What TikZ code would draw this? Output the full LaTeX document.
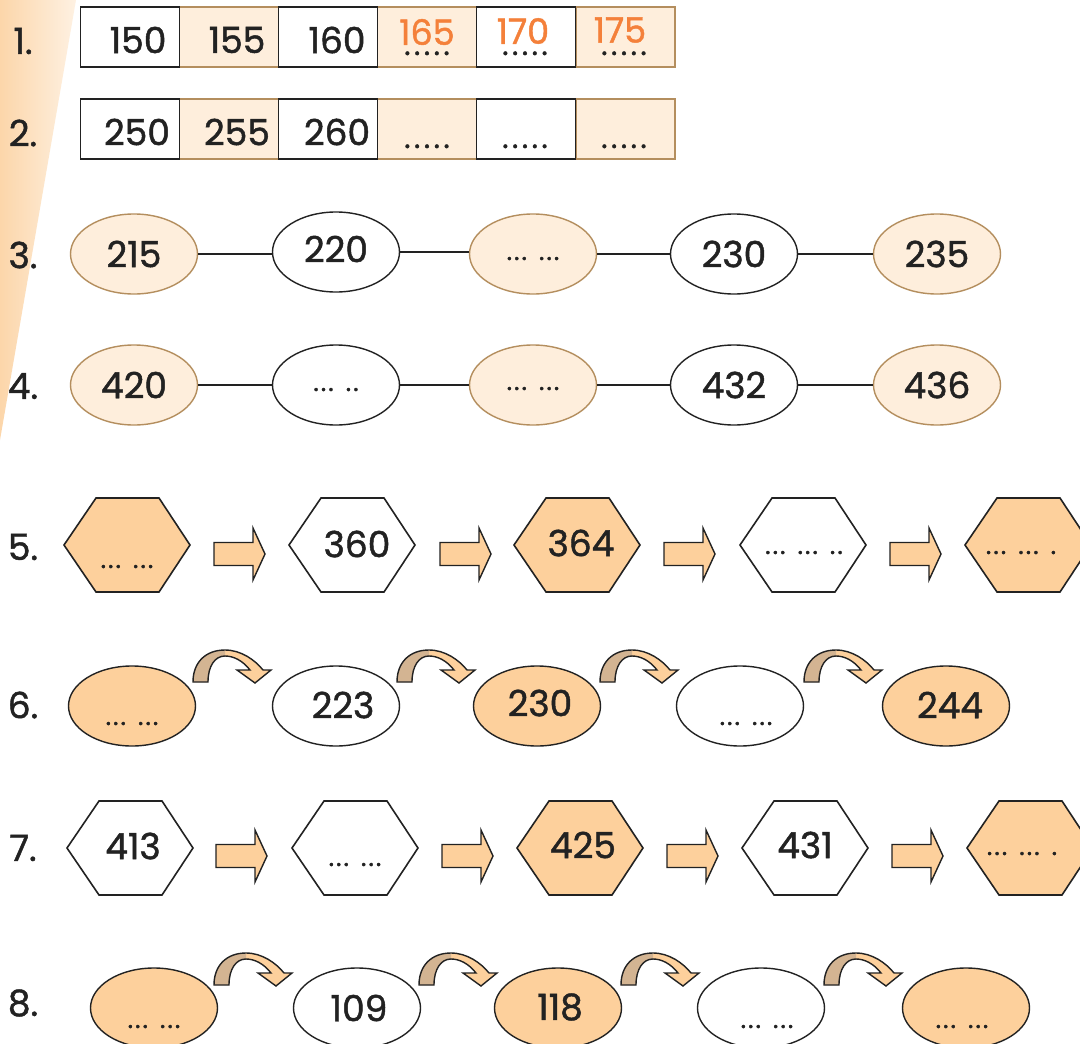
\documentclass[tikz,border=0pt]{standalone}
\usepackage{fontspec}
\setmainfont{Poppins}
\newfontfamily\numfont[FakeBold=1.3]{Poppins}
\usetikzlibrary{shapes.geometric,calc}
\definecolor{peachL}{HTML}{FEEEDC}
\definecolor{peachS}{HTML}{FDD09C}
\definecolor{tanB}{HTML}{B48E5E}
\definecolor{tanF}{HTML}{D3B492}
\definecolor{orangeT}{HTML}{F4803A}
\definecolor{ink}{HTML}{222222}
\definecolor{wedgeA}{HTML}{FCD6AA}
\definecolor{wedgeB}{HTML}{FEF1E2}
\newcommand\gsep{\hspace{12pt}}
\newcommand\dd{\hspace{2pt}}
\newcommand\fivedots{.\hspace{3.5pt}.\hspace{3.5pt}.\hspace{3.5pt}.\hspace{3.5pt}.}
\begin{document}
\begin{tikzpicture}[x=1pt,y=-1pt,
  num/.style={font=\numfont\fontsize{36}{40}\selectfont, text=ink, inner sep=0},
  onum/.style={font=\numfont\fontsize{35}{40}\selectfont, text=orangeT, inner sep=0},
  dotsT/.style={font=\numfont\fontsize{26}{28}\selectfont, text=ink, inner sep=0, anchor=base},
  rdots/.style={font=\numfont\fontsize{30}{34}\selectfont, text=ink, inner sep=0, anchor=base},
  cellW/.style={rectangle, draw=ink, line width=1.3, fill=white, minimum width=99, minimum height=60, inner sep=0},
  cellP/.style={rectangle, draw=tanB, line width=1.3, fill=peachL, minimum width=99, minimum height=60, inner sep=0},
  ellbase/.style={ellipse, line width=1.4, minimum width=127, minimum height=80, inner sep=0},
  ellL/.style={ellbase, draw=tanB, fill=peachL},
  ellW/.style={ellbase, draw=ink, fill=white},
  ellS/.style={ellbase, draw=ink, fill=peachS},
  link/.style={draw=ink, line width=1.3},
  pics/hexa/.style={code={\path[draw=ink, line width=1.6, line join=miter, #1] (-63,0) -- (-31,-47) -- (32,-47) -- (63,0) -- (32,47) -- (-31,47) -- cycle;}},
  pics/barrow/.style={code={\path[draw=ink, line width=1.4, fill=peachS] (0,-11.5) -- (39,-11.5) -- (39,-26) -- (51,0) -- (39,26) -- (39,11.5) -- (0,11.5) -- cycle;}},
  pics/carrow/.style={code={
    \fill[peachS] (0,0) .. controls (0,-20) and (13,-32) .. (32,-32) .. controls (48,-32) and (62,-22) .. (70,-12) -- (78,-12) -- (62,1) -- (44,-12) -- (57,-12) .. controls (50,-21) and (41,-26) .. (32,-26) .. controls (22,-26) and (15,-16) .. (15,0) -- cycle;
    \begin{scope}
      \clip (-5,-40) rectangle (32,5);
      \fill[tanF] (0,0) .. controls (0,-20) and (13,-32) .. (32,-32) .. controls (48,-32) and (62,-22) .. (70,-12) -- (78,-12) -- (62,1) -- (44,-12) -- (57,-12) .. controls (50,-21) and (41,-26) .. (32,-26) .. controls (22,-26) and (15,-16) .. (15,0) -- cycle;
    \end{scope}
    \draw[ink, line width=1.4, line join=miter] (0,0) .. controls (0,-20) and (13,-32) .. (32,-32) .. controls (48,-32) and (62,-22) .. (70,-12) -- (78,-12) -- (62,1) -- (44,-12) -- (57,-12) .. controls (50,-21) and (41,-26) .. (32,-26) .. controls (22,-26) and (15,-16) .. (15,0) -- cycle;
  }},
]
\useasboundingbox (0,0) rectangle (1080,1044);
\clip (0,0) rectangle (1080,1044);
\fill[white] (0,0) rectangle (1080,1044);
% left wedge
\shade[left color=wedgeA, right color=wedgeB] (0,0) -- (76,0) -- (0,440) -- cycle;

% labels
\foreach \t/\y in {1./41, 2./133, 3./255, 4./386, 5./547, 6./705, 7./848, 8./1003}
  \node[num] (lab\y) at (23,\y) {\t};

% row 1
\node[cellP] (c12) at (229,37) {};
\node[cellP] (c14) at (427,37) {};
\node[cellP] (c16) at (625.5,37) {};
\node[cellW] (c11) at (130,37) {};
\node[cellW] (c13) at (328,37) {};
\node[cellW] (c15) at (526,37) {};
\node[num] (t11) at (138,40) {150};
\node[num] (t12) at (237,40) {155};
\node[num] (t13) at (337,40) {160};
\node[onum] (t14) at (427,32) {165};
\node[onum] (t15) at (523,31) {170};
\node[onum] (t16) at (620,30) {175};
\node[rdots] (d14) at (427,55) {\fivedots};
\node[rdots] (d15) at (525,55) {\fivedots};
\node[rdots] (d16) at (624,55) {\fivedots};

% row 2
\node[cellP] (c22) at (229,129) {};
\node[cellP] (c24) at (427,129) {};
\node[cellP] (c26) at (625.5,129) {};
\node[cellW] (c21) at (130,129) {};
\node[cellW] (c23) at (328,129) {};
\node[cellW] (c25) at (526,129) {};
\node[num] (t21) at (137,132) {250};
\node[num] (t22) at (237,132) {255};
\node[num] (t23) at (337,132) {260};
\node[rdots] (d24) at (427,148) {\fivedots};
\node[rdots] (d25) at (525,148) {\fivedots};
\node[rdots] (d26) at (624,148) {\fivedots};

% row 3
\node[ellL] (e31) at (134,254) {};
\node[ellW] (e32) at (336,252) {};
\node[ellL] (e33) at (533,254) {};
\node[ellW] (e34) at (734,254) {};
\node[ellL] (e35) at (937,254) {};
\draw[link] (e31) -- (e31 -| e32.west);
\draw[link] (e32) -- (e32 -| e33.west);
\draw[link] (e33) -- (e33 -| e34.west);
\draw[link] (e34) -- (e34 -| e35.west);
\node[num] at (e31) {215};
\node[num] at ($(e32)+(0,-3)$) {220};
\node[dotsT] at ($(e33)+(0,6)$) {.\dd.\dd.\gsep.\dd.\dd.};
\node[num] at (e34) {230};
\node[num] at (e35) {235};

% row 4
\node[ellL] (e41) at (134,385) {};
\node[ellW] (e42) at (336,385) {};
\node[ellL] (e43) at (533,385) {};
\node[ellW] (e44) at (734,385) {};
\node[ellL] (e45) at (937,385) {};
\draw[link] (e41) -- (e42);
\draw[link] (e42) -- (e43);
\draw[link] (e43) -- (e44);
\draw[link] (e44) -- (e45);
\node[num] at (e41) {420};
\node[dotsT] at ($(e42)+(0,6)$) {.\dd.\dd.\gsep.\dd.};
\node[dotsT] at ($(e43)+(0,5)$) {.\dd.\dd.\gsep.\dd.\dd.};
\node[num] at (e44) {432};
\node[num] at (e45) {436};

% row 5
\pic at (127,545) {hexa={fill=peachS}};
\pic at (352,545) {hexa={fill=white}};
\pic at (577,545) {hexa={fill=peachS}};
\pic at (803,545) {hexa={fill=white}};
\pic at (1028,545) {hexa={fill=peachS}};
\foreach \x in {214,440,664,890} \pic at (\x,554) {barrow};
\node[dotsT] (t51) at (127,568) {.\dd.\dd.\gsep.\dd.\dd.};
\node[num] (t52) at (357,544) {360};
\node[num] (t53) at (581,543) {364};
\node[dotsT] (t54) at (804,554) {.\dd.\dd.\gsep.\dd.\dd.\gsep.\dd.};
\node[dotsT] (t55) at (1021,554) {.\dd.\dd.\gsep.\dd.\dd.\gsep.};

% row 6
\node[ellS] (e61) at (132,706) {};
\node[ellW] (e62) at (336,706) {};
\node[ellS] (e63) at (537,706) {};
\node[ellW] (e64) at (740,706) {};
\node[ellS] (e65) at (946,706) {};
\foreach \x in {193,397,600,804} \pic at (\x,682) {carrow};
\node[dotsT] at (132,725) {.\dd.\dd.\gsep.\dd.\dd.};
\node[num] at (343,705) {223};
\node[num] at (540,703) {230};
\node[dotsT] at (746,725) {.\dd.\dd.\gsep.\dd.\dd.};
\node[num] at (950,705) {244};

% row 7
\pic at (130,848) {hexa={fill=white}};
\pic at (355,848) {hexa={fill=white}};
\pic at (580,848) {hexa={fill=peachS}};
\pic at (805,848) {hexa={fill=white}};
\pic at (1030,848) {hexa={fill=peachS}};
\foreach \x in {216,442,667,892} \pic at (\x,856) {barrow};
\node[num] (t71) at (133,846) {413};
\node[dotsT] (t72) at (355,866) {.\dd.\dd.\gsep.\dd.\dd.};
\node[num] (t73) at (583,845) {425};
\node[num] (t74) at (805,845) {431};
\node[dotsT] (t75) at (1022,855) {.\dd.\dd.\gsep.\dd.\dd.\gsep.};

% row 8
\node[ellS] (e81) at (154,1008) {};
\node[ellW] (e82) at (357,1008) {};
\node[ellS] (e83) at (558,1008) {};
\node[ellW] (e84) at (761,1008) {};
\node[ellS] (e85) at (966,1008) {};
\foreach \x in {214,419,621,824} \pic at (\x,985) {carrow};
\node[dotsT] at (154,1028) {.\dd.\dd.\gsep.\dd.\dd.};
\node[num] at (359,1008) {109};
\node[num] at (560,1007) {118};
\node[dotsT] at (767,1028) {.\dd.\dd.\gsep.\dd.\dd.};
\node[dotsT] at (962,1028) {.\dd.\dd.\gsep.\dd.\dd.};
\end{tikzpicture}
\end{document}
